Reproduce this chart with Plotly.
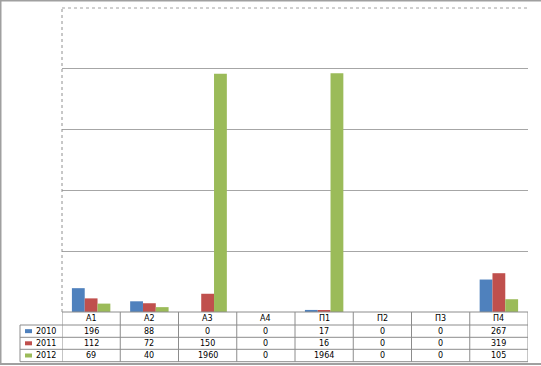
import plotly.graph_objects as go

categories = ["А1", "А2", "А3", "А4", "П1", "П2", "П3", "П4"]
years = ["2010", "2011", "2012"]
values_2010 = [196, 88, 0, 0, 17, 0, 0, 267]
values_2011 = [112, 72, 150, 0, 16, 0, 0, 319]
values_2012 = [69, 40, 1960, 0, 1964, 0, 0, 105]
colors = ["#4F81BD", "#C0504D", "#9BBB59"]
series = [values_2010, values_2011, values_2012]

W, H = 541, 366
L, R, T, B = 62, 528, 8, 312
pw, ph = R - L, B - T

def py(p):
    return (B - p) / ph

def px(p):
    return (p - L) / pw

fig = go.Figure()
for name, vals, c in zip(years, series, colors):
    fig.add_trace(go.Bar(x=categories, y=vals, name=name, marker=dict(color=c, line=dict(width=0))))

font = dict(family="DejaVu Sans", size=8, color="#000000")
shapes = []
annotations = []
line_col = "#8c8c8c"

row_edges = [312, 325, 337.3, 349.3, 361.7]
# horizontal table lines
shapes.append(dict(type="line", xref="paper", yref="paper", x0=0, x1=1, y0=py(312), y1=py(312), line=dict(color=line_col, width=1)))
for e in row_edges[1:]:
    shapes.append(dict(type="line", xref="paper", yref="paper", x0=px(20), x1=1, y0=py(e), y1=py(e), line=dict(color=line_col, width=1)))
# vertical table lines
n = len(categories)
for i in range(n + 1):
    shapes.append(dict(type="line", xref="x", yref="paper", x0=i - 0.5, x1=i - 0.5, y0=py(312), y1=py(row_edges[-1]), line=dict(color=line_col, width=1)))
shapes.append(dict(type="line", xref="paper", yref="paper", x0=px(20), x1=px(20), y0=py(325), y1=py(row_edges[-1]), line=dict(color=line_col, width=1)))
# y axis dotted line and top gridline
shapes.append(dict(type="line", xref="paper", yref="paper", x0=0, x1=0, y0=0, y1=1, line=dict(color="#909090", width=1, dash="dot")))
shapes.append(dict(type="line", xref="paper", yref="paper", x0=0, x1=1, y0=1, y1=1, line=dict(color="#a0a0a0", width=1, dash="dot")))
# outer frame
shapes.append(dict(type="rect", xref="paper", yref="paper", x0=px(0.5), x1=px(560), y0=py(0.5), y1=py(364), line=dict(color="#a0a0a0", width=2)))

# header labels
for cat in categories:
    annotations.append(dict(x=cat, y=py((312 + 325) / 2), xref="x", yref="paper", text=cat, showarrow=False, font=font, xanchor="center", yanchor="middle"))
# rows
for r, (name, vals, c) in enumerate(zip(years, series, colors)):
    yc = (row_edges[r + 1] + row_edges[r + 2]) / 2
    shapes.append(dict(type="rect", xref="paper", yref="paper", x0=px(25), x1=px(32), y0=py(yc - 2), y1=py(yc + 2), fillcolor=c, line=dict(width=0)))
    annotations.append(dict(x=px(34), y=py(yc), xref="paper", yref="paper", text=name, showarrow=False, font=font, xanchor="left", yanchor="middle"))
    for cat, v in zip(categories, vals):
        annotations.append(dict(x=cat, y=py(yc), xref="x", yref="paper", text=str(v), showarrow=False, font=font, xanchor="center", yanchor="middle"))

fig.update_layout(
    width=W, height=H,
    margin=dict(l=L, r=W - R, t=T, b=H - B),
    paper_bgcolor="white", plot_bgcolor="white",
    showlegend=False,
    barmode="group", bargap=0.34, bargroupgap=0,
    xaxis=dict(showticklabels=False, ticks="", showgrid=False, zeroline=False, showline=False, range=[-0.5, n - 0.5]),
    yaxis=dict(range=[0, 2500], dtick=500, showticklabels=False, ticks="", showgrid=True, gridcolor="#a6a6a6", gridwidth=1, zeroline=False, showline=False),
    shapes=shapes, annotations=annotations,
)

fig.write_html("out.html")
